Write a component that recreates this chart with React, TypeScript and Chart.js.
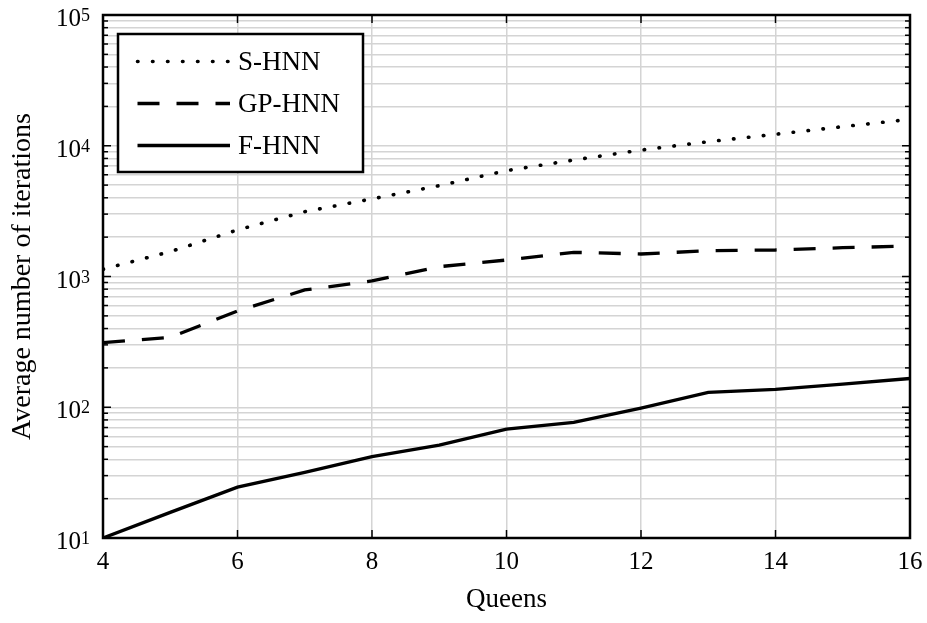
import React, { useEffect, useRef } from 'react';
import { Chart, registerables } from 'chart.js';

Chart.register(...registerables);

// ---- data ----
const queens = [4, 5, 6, 7, 8, 9, 10, 11, 12, 13, 14, 15, 16];
const sHnn = [1135, 1550, 2270, 3130, 3920, 4950, 6450, 7780, 9270, 10740, 12240, 14000, 15930];
const gpHnn = [312, 343, 545, 789, 924, 1189, 1337, 1531, 1486, 1575, 1595, 1660, 1711];
const fHnn = [10, 15.7, 24.5, 31.8, 41.9, 51.4, 68, 76.7, 98.5, 130, 137, 150, 166];
const seriesLabels = ['S-HNN', 'GP-HNN', 'F-HNN'];
const xTickValues = [4, 6, 8, 10, 12, 14, 16];
const yDecades = [10, 100, 1000, 10000];
const yMultipliers = [1, 2, 3, 4, 5, 6, 7, 8, 9];
const yMajorTicks = [10, 100, 1000, 10000, 100000];
const yMajorExponents = ['1', '2', '3', '4', '5'];
const xTitle = 'Queens';
const yTitle = 'Average number of iterations';

const FONT = '"Liberation Serif", "Times New Roman", serif';

const yTickValues: number[] = [];
yDecades.forEach((d) => yMultipliers.forEach((m) => yTickValues.push(d * m)));
yTickValues.push(100000);

const toPoints = (vals: number[]) => queens.map((q, i) => ({ x: q, y: vals[i] }));

const framePlugin = {
  id: 'frameAndLegend',
  afterDatasetsDraw(chart: any) {
    const { ctx, chartArea: a, scales } = chart;
    const xs = scales.x;
    const ys = scales.y;
    ctx.save();
    ctx.strokeStyle = '#000';
    ctx.lineWidth = 1.5;
    ctx.setLineDash([]);
    const line = (x1: number, y1: number, x2: number, y2: number) => {
      ctx.beginPath();
      ctx.moveTo(x1, y1);
      ctx.lineTo(x2, y2);
      ctx.stroke();
    };
    // inward tick marks
    xs.ticks.forEach((t: any) => {
      const px = xs.getPixelForValue(t.value);
      line(px, a.bottom, px, a.bottom - 8);
      line(px, a.top, px, a.top + 8);
    });
    ys.ticks.forEach((t: any) => {
      const py = ys.getPixelForValue(t.value);
      const len = yMajorTicks.includes(t.value) ? 8 : 5;
      line(a.left, py, a.left + len, py);
      line(a.right, py, a.right - len, py);
    });
    // box
    ctx.lineWidth = 2.5;
    ctx.strokeRect(a.left, a.top, a.right - a.left, a.bottom - a.top);

    // y tick labels (10^n)
    ctx.fillStyle = '#000';
    ctx.textBaseline = 'alphabetic';
    yMajorTicks.forEach((v, i) => {
      const py = ys.getPixelForValue(v);
      const rightEdge = a.left - 13;
      ctx.font = `18px ${FONT}`;
      ctx.textAlign = 'right';
      const expW = ctx.measureText(yMajorExponents[i]).width;
      ctx.fillText(yMajorExponents[i], rightEdge, py + 6);
      ctx.font = `25px ${FONT}`;
      ctx.fillText('10', rightEdge - expW, py + 11);
    });

    // legend
    const bx = a.left + 15;
    const by = a.top + 19;
    const bw = 245;
    const bh = 138;
    ctx.fillStyle = '#fff';
    ctx.fillRect(bx, by, bw, bh);
    ctx.lineWidth = 2.5;
    ctx.strokeStyle = '#000';
    ctx.strokeRect(bx, by, bw, bh);
    chart.data.datasets.forEach((ds: any, i: number) => {
      const ry = by + 27.5 + i * 42;
      ctx.save();
      ctx.strokeStyle = ds.borderColor;
      ctx.lineWidth = ds.borderWidth;
      ctx.lineCap = ds.borderCapStyle || 'butt';
      ctx.setLineDash(ds.borderDash || []);
      ctx.beginPath();
      ctx.moveTo(bx + 19.5, ry);
      ctx.lineTo(bx + 112, ry);
      ctx.stroke();
      ctx.restore();
      ctx.fillStyle = '#000';
      ctx.font = `27px ${FONT}`;
      ctx.textAlign = 'left';
      ctx.textBaseline = 'middle';
      ctx.fillText(ds.label, bx + 120, ry + 1);
    });
    ctx.restore();
  },
};

export default function App() {
  const ref = useRef<HTMLCanvasElement>(null);
  useEffect(() => {
    if (!ref.current) return;
    Chart.defaults.font.family = FONT;
    Chart.defaults.color = '#000';
    const gridColor = '#d4d4d4';
    const chart = new Chart(ref.current, {
      type: 'line',
      data: {
        datasets: [
          {
            label: seriesLabels[0],
            data: toPoints(sHnn),
            borderColor: '#000',
            borderWidth: 3.6,
            borderDash: [0.5, 14.5],
            borderCapStyle: 'round',
            pointRadius: 0,
            tension: 0,
          },
          {
            label: seriesLabels[1],
            data: toPoints(gpHnn),
            borderColor: '#000',
            borderWidth: 3.3,
            borderDash: [22, 17],
            borderCapStyle: 'butt',
            pointRadius: 0,
            tension: 0,
          },
          {
            label: seriesLabels[2],
            data: toPoints(fHnn),
            borderColor: '#000',
            borderWidth: 3.3,
            borderCapStyle: 'butt',
            pointRadius: 0,
            tension: 0,
          },
        ] as any,
      },
      options: {
        animation: false,
        responsive: false,
        layout: { padding: { left: 0, top: 15, right: 17, bottom: 0 } },
        plugins: {
          legend: { display: false },
          tooltip: { enabled: false },
        },
        scales: {
          x: {
            type: 'linear',
            min: 4,
            max: 16,
            afterBuildTicks: (scale: any) => {
              scale.ticks = xTickValues.map((v) => ({ value: v }));
            },
            afterFit: (scale: any) => {
              scale.height = 85;
              scale.paddingLeft = 0;
              scale.paddingRight = 0;
            },
            grid: { color: gridColor, lineWidth: 1.5, drawTicks: false },
            border: { display: false },
            ticks: {
              autoSkip: false,
              maxRotation: 0,
              padding: 9,
              font: { size: 25, family: FONT },
              color: '#000',
            },
            title: {
              display: true,
              text: xTitle,
              font: { size: 27, family: FONT, lineHeight: 1.2 },
              color: '#000',
              padding: { top: 0, bottom: 7 },
            },
          },
          y: {
            type: 'logarithmic',
            min: 10,
            max: 100000,
            afterBuildTicks: (scale: any) => {
              scale.ticks = yTickValues.map((v) => ({ value: v, major: yMajorTicks.includes(v) }));
            },
            afterFit: (scale: any) => {
              scale.width = 103;
              scale.paddingTop = 0;
              scale.paddingBottom = 0;
            },
            grid: { color: gridColor, lineWidth: 1.5, drawTicks: false },
            border: { display: false },
            ticks: { display: false, autoSkip: false },
            title: {
              display: true,
              text: yTitle,
              font: { size: 28, family: FONT, lineHeight: 1.2 },
              color: '#000',
              padding: { top: 6, bottom: 0 },
            },
          },
        },
      } as any,
      plugins: [framePlugin],
    });
    return () => chart.destroy();
  }, []);
  return (
    <div style={{ position: 'fixed', left: 0, top: 0, width: 927, height: 623, background: '#fff' }}>
      <canvas ref={ref} width={927} height={623} style={{ display: 'block' }} />
    </div>
  );
}
